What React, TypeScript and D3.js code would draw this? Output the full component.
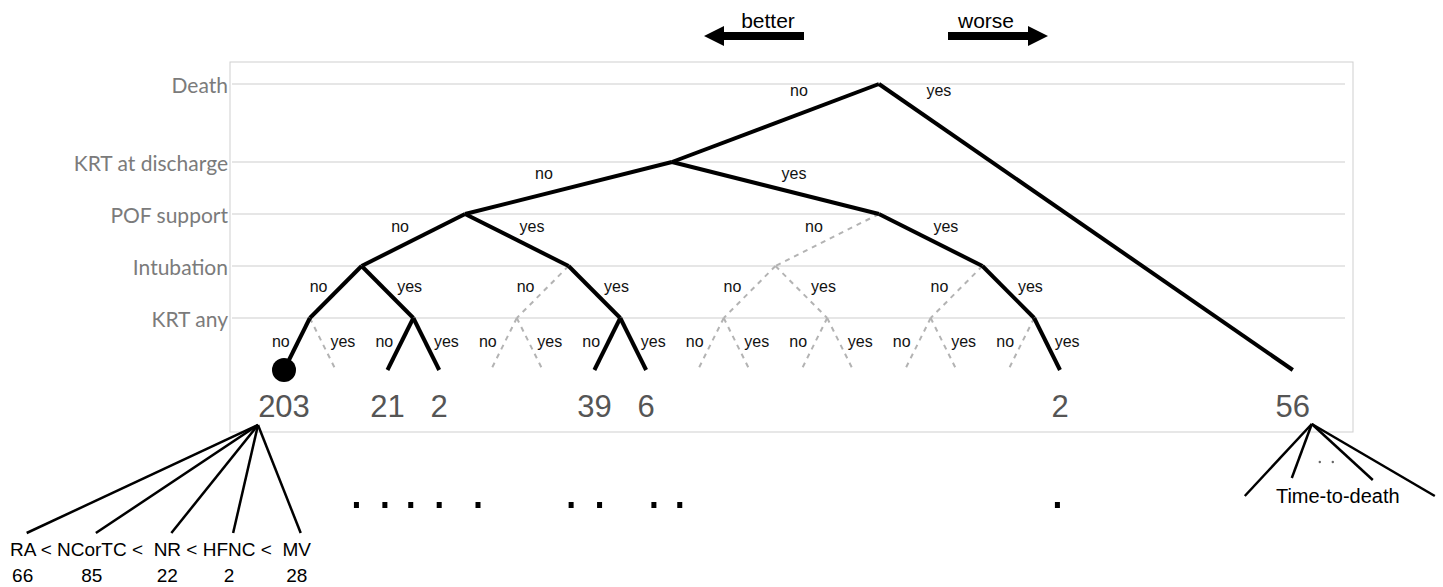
import React, { useLayoutEffect, useRef, useState } from "react";
import * as d3 from "d3";

// ---------------- data ----------------
const LEVELS = ["Death", "KRT at discharge", "POF support", "Intubation", "KRT any"];
const LEVEL_DEPTH = [0, 1.5, 2.5, 3.5, 4.5];
const LEAF_DEPTH = 5.5;
const BRANCHES = ["no", "yes"];
// leaves of the "not dead" subtree, in order no/yes at every level
const LEAF_COUNTS = [203, 0, 21, 2, 0, 0, 39, 6, 0, 0, 0, 0, 0, 0, 0, 2];
const DEATH_COUNT = 56;
const DEATH_SLOT = 19.5;
const ROOT_SLOT = 11.5;
const HIGHLIGHT_LEAF = 0;
const MODES = ["RA", "NCorTC", "NR", "HFNC", "MV"];
const MODE_SEPARATORS = [" < ", " <  ", " < ", " <  ", ""];
const MODE_COUNTS = [66, 85, 22, 2, 28];
const ELLIPSIS_SLOTS = [1.4, 1.95, 2.45, 3.0, 3.75, 5.55, 6.1, 7.15, 7.65, 14.95];
const TTD_LABEL = "Time-to-death";
const ARROW_LABELS = ["better", "worse"];

// ---------------- layout/style ----------------
const W = 1443;
const H = 587;
const BOX = { x: 230, y: 62, w: 1123, h: 370 };
const LABEL_DX = [
  [-80, 60],
  [-128, 122],
  [-65, 67],
  [-43, 48],
  [-29, 33],
];
const LABEL_DY = [6, 11, 12, 20, 23];
const TTD_BRANCHES = [
  [-67, 72],
  [-20, 54],
  [61, 56],
  [123, 72],
];

interface TNode {
  slot: number;
  depth: number;
  level: number;
  total: number;
  children: TNode[];
  count?: number;
}

function buildSub(level: number, lo: number, size: number): TNode {
  if (size === 1) {
    return {
      slot: lo,
      depth: LEAF_DEPTH,
      level,
      total: LEAF_COUNTS[lo],
      children: [],
      count: LEAF_COUNTS[lo],
    };
  }
  const a = buildSub(level + 1, lo, size / 2);
  const b = buildSub(level + 1, lo + size / 2, size / 2);
  return {
    slot: (a.slot + b.slot) / 2,
    depth: LEVEL_DEPTH[level],
    level,
    total: a.total + b.total,
    children: [a, b],
  };
}

function buildTree(): TNode {
  const alive = buildSub(1, 0, LEAF_COUNTS.length);
  const dead: TNode = {
    slot: DEATH_SLOT,
    depth: LEAF_DEPTH,
    level: LEVELS.length,
    total: DEATH_COUNT,
    children: [],
    count: DEATH_COUNT,
  };
  return {
    slot: ROOT_SLOT,
    depth: LEVEL_DEPTH[0],
    level: 0,
    total: alive.total + dead.total,
    children: [alive, dead],
  };
}

export default function App() {
  const x = d3.scaleLinear().domain([0, LEAF_COUNTS.length - 1]).range([284, 1060]);
  const y = d3.scaleLinear().domain([0, LEAF_DEPTH]).range([84, 370]);

  const root = buildTree();
  const edges: { p: TNode; c: TNode; b: number }[] = [];
  const leaves: TNode[] = [];
  const walk = (n: TNode) => {
    if (n.children.length === 0) leaves.push(n);
    n.children.forEach((c, i) => {
      edges.push({ p: n, c, b: i });
      walk(c);
    });
  };
  walk(root);

  const line = d3.line<[number, number]>();

  // measured bottom row
  const rowRef = useRef<SVGTextElement>(null);
  const [centers, setCenters] = useState<number[] | null>(null);
  useLayoutEffect(() => {
    const t = rowRef.current;
    if (!t) return;
    const spans = Array.from(t.querySelectorAll("tspan.mode")) as SVGTSpanElement[];
    const cs = spans.map((s) => {
      const start = s.getStartPositionOfChar(0).x;
      const end = s.getEndPositionOfChar(s.getNumberOfChars() - 1).x;
      return (start + end) / 2;
    });
    setCenters(cs);
  }, []);

  const leftApex: [number, number] = [x(HIGHLIGHT_LEAF) - 26, 425];
  const rightApex: [number, number] = [x(DEATH_SLOT) + 19, 424];

  const font = "'Liberation Sans', Arial, Helvetica, sans-serif";

  return (
    <svg
      width={W}
      height={H}
      style={{ position: "absolute", left: 0, top: 0, background: "#fff" }}
      fontFamily={font}
    >
      {/* box */}
      <rect x={BOX.x} y={BOX.y} width={BOX.w} height={BOX.h} fill="none" stroke="#cfcfcf" strokeWidth={1} />
      {/* gridlines + level labels */}
      {LEVELS.map((lv, i) => (
        <g key={lv}>
          <line
            x1={BOX.x + 2}
            x2={BOX.x + BOX.w - 8}
            y1={y(LEVEL_DEPTH[i])}
            y2={y(LEVEL_DEPTH[i])}
            stroke="#e6e6e6"
            strokeWidth={2}
          />
          <text
            x={BOX.x - 2}
            y={y(LEVEL_DEPTH[i])}
            textAnchor="end"
            dominantBaseline="central"
            fontFamily="Lato, 'Open Sans', sans-serif"
            fontSize={21}
            fill="#7b7b7b"
          >
            {lv}
          </text>
        </g>
      ))}

      {/* dashed edges */}
      {edges
        .filter((e) => e.c.total === 0)
        .map((e, i) => (
          <path
            key={"d" + i}
            d={line([
              [x(e.p.slot), y(e.p.depth)],
              [x(e.c.slot), y(e.c.depth)],
            ])!}
            stroke="#b3b3b3"
            strokeWidth={2}
            strokeDasharray="5,5"
            fill="none"
          />
        ))}
      {/* solid edges */}
      {edges
        .filter((e) => e.c.total > 0)
        .map((e, i) => (
          <path
            key={"s" + i}
            d={line([
              [x(e.p.slot), y(e.p.depth)],
              [x(e.c.slot), y(e.c.depth)],
            ])!}
            stroke="#000"
            strokeWidth={4}
            strokeLinejoin="round"
            fill="none"
          />
        ))}
      {/* branch labels */}
      {edges.map((e, i) => (
        <text
          key={"l" + i}
          x={x(e.p.slot) + LABEL_DX[e.p.level][e.b]}
          y={y(e.p.depth) + LABEL_DY[e.p.level]}
          textAnchor="middle"
          dominantBaseline="central"
          fontSize={16}
          fill="#111"
        >
          {BRANCHES[e.b]}
        </text>
      ))}
      {/* highlighted leaf */}
      <circle cx={x(HIGHLIGHT_LEAF)} cy={y(LEAF_DEPTH)} r={12} fill="#000" />
      {/* counts */}
      {leaves
        .filter((l) => (l.count ?? 0) > 0)
        .map((l, i) => (
          <text key={"c" + i} x={x(l.slot)} y={417} textAnchor="middle" fontSize={31} fill="#555">
            {l.count}
          </text>
        ))}

      {/* top arrows */}
      <path d="M704,36 L724,26 L724,32 L804,32 L804,40 L724,40 L724,46 Z" fill="#000" />
      <path d="M1048,36 L1028,26 L1028,32 L948,32 L948,40 L1028,40 L1028,46 Z" fill="#000" />
      <text x={768} y={28} textAnchor="middle" fontSize={21} fill="#000">
        {ARROW_LABELS[0]}
      </text>
      <text x={986} y={28} textAnchor="middle" fontSize={21} fill="#000">
        {ARROW_LABELS[1]}
      </text>

      {/* bottom-left fan */}
      {centers &&
        centers.map((cx, i) => (
          <line key={"f" + i} x1={leftApex[0]} y1={leftApex[1]} x2={cx + 4} y2={533} stroke="#000" strokeWidth={2.5} />
        ))}
      <text ref={rowRef} x={10} y={556} fontSize={19} fill="#000" style={{ whiteSpace: "pre" }}>
        {MODES.map((m, i) => (
          <React.Fragment key={m}>
            <tspan className="mode">{m}</tspan>
            {MODE_SEPARATORS[i] ? <tspan>{MODE_SEPARATORS[i]}</tspan> : null}
          </React.Fragment>
        ))}
      </text>
      {centers &&
        centers.map((cx, i) => (
          <text key={"n" + i} x={cx} y={582} textAnchor="middle" fontSize={19} fill="#000">
            {MODE_COUNTS[i]}
          </text>
        ))}

      {/* ellipsis dots */}
      {ELLIPSIS_SLOTS.map((s, i) => (
        <rect key={"e" + i} x={x(s) - 2.5} y={502} width={5} height={6} fill="#000" />
      ))}

      {/* time-to-death fan */}
      {TTD_BRANCHES.map((b, i) => (
        <line
          key={"t" + i}
          x1={rightApex[0]}
          y1={rightApex[1]}
          x2={rightApex[0] + b[0]}
          y2={rightApex[1] + b[1]}
          stroke="#000"
          strokeWidth={2.5}
        />
      ))}
      <circle cx={rightApex[0] + 8} cy={462} r={1.2} fill="#666" />
      <circle cx={rightApex[0] + 21} cy={462} r={1.2} fill="#666" />
      <text x={rightApex[0] + 26} y={503} textAnchor="middle" fontSize={20} fill="#000">
        {TTD_LABEL}
      </text>
    </svg>
  );
}
